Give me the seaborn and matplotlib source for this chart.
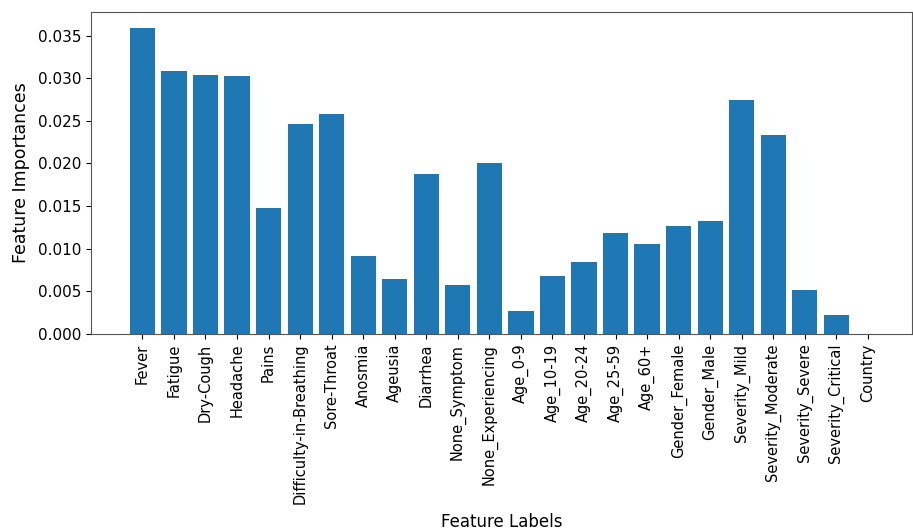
import pandas as pd
import numpy as np
import matplotlib
matplotlib.use('Agg')
import matplotlib.pyplot as plt
import seaborn as sns

# feature names and importances
features = ['Fever', 'Fatigue', 'Dry-Cough', 'Headache', 'Pains',
            'Difficulty-in-Breathing', 'Sore-Throat', 'Anosmia', 'Ageusia',
            'Diarrhea', 'None_Symptom', 'None_Experiencing', 'Age_0-9',
            'Age_10-19', 'Age_20-24', 'Age_25-59', 'Age_60+', 'Gender_Female',
            'Gender_Male', 'Severity_Mild', 'Severity_Moderate',
            'Severity_Severe', 'Severity_Critical', 'Country']
importances = [0.0359, 0.0308, 0.0304, 0.0302, 0.0148,
               0.0246, 0.0258, 0.0092, 0.0064,
               0.0188, 0.0057, 0.0201, 0.0027,
               0.0068, 0.0084, 0.0119, 0.0105, 0.0127,
               0.0133, 0.0275, 0.0233,
               0.0052, 0.0022, 0.0]

df = pd.DataFrame({'feature': features, 'importance': importances})

fig = plt.figure(figsize=(9.13, 5.31), dpi=100)
ax = fig.add_axes([0.1, 0.371, 0.899, 0.607])
sns.barplot(data=df, x='feature', y='importance', color='#1f77b4',
            saturation=1, width=0.8, ax=ax)
ax.set_xlim(-1.62, 24.4)
ax.set_ylim(0, 0.0378)
ax.set_yticks(np.arange(0, 0.0351, 0.005))
ax.yaxis.set_major_formatter(matplotlib.ticker.FormatStrFormatter('%.3f'))
ax.tick_params(axis='y', labelsize=11)
ax.tick_params(axis='x', labelsize=10.5, rotation=90)
ax.set_xlabel('Feature Labels', fontsize=12, labelpad=6)
ax.set_ylabel('Feature Importances', fontsize=12.5, labelpad=6)
for s in ax.spines.values():
    s.set_color('#555555')
fig.savefig('out.png', dpi=100)
